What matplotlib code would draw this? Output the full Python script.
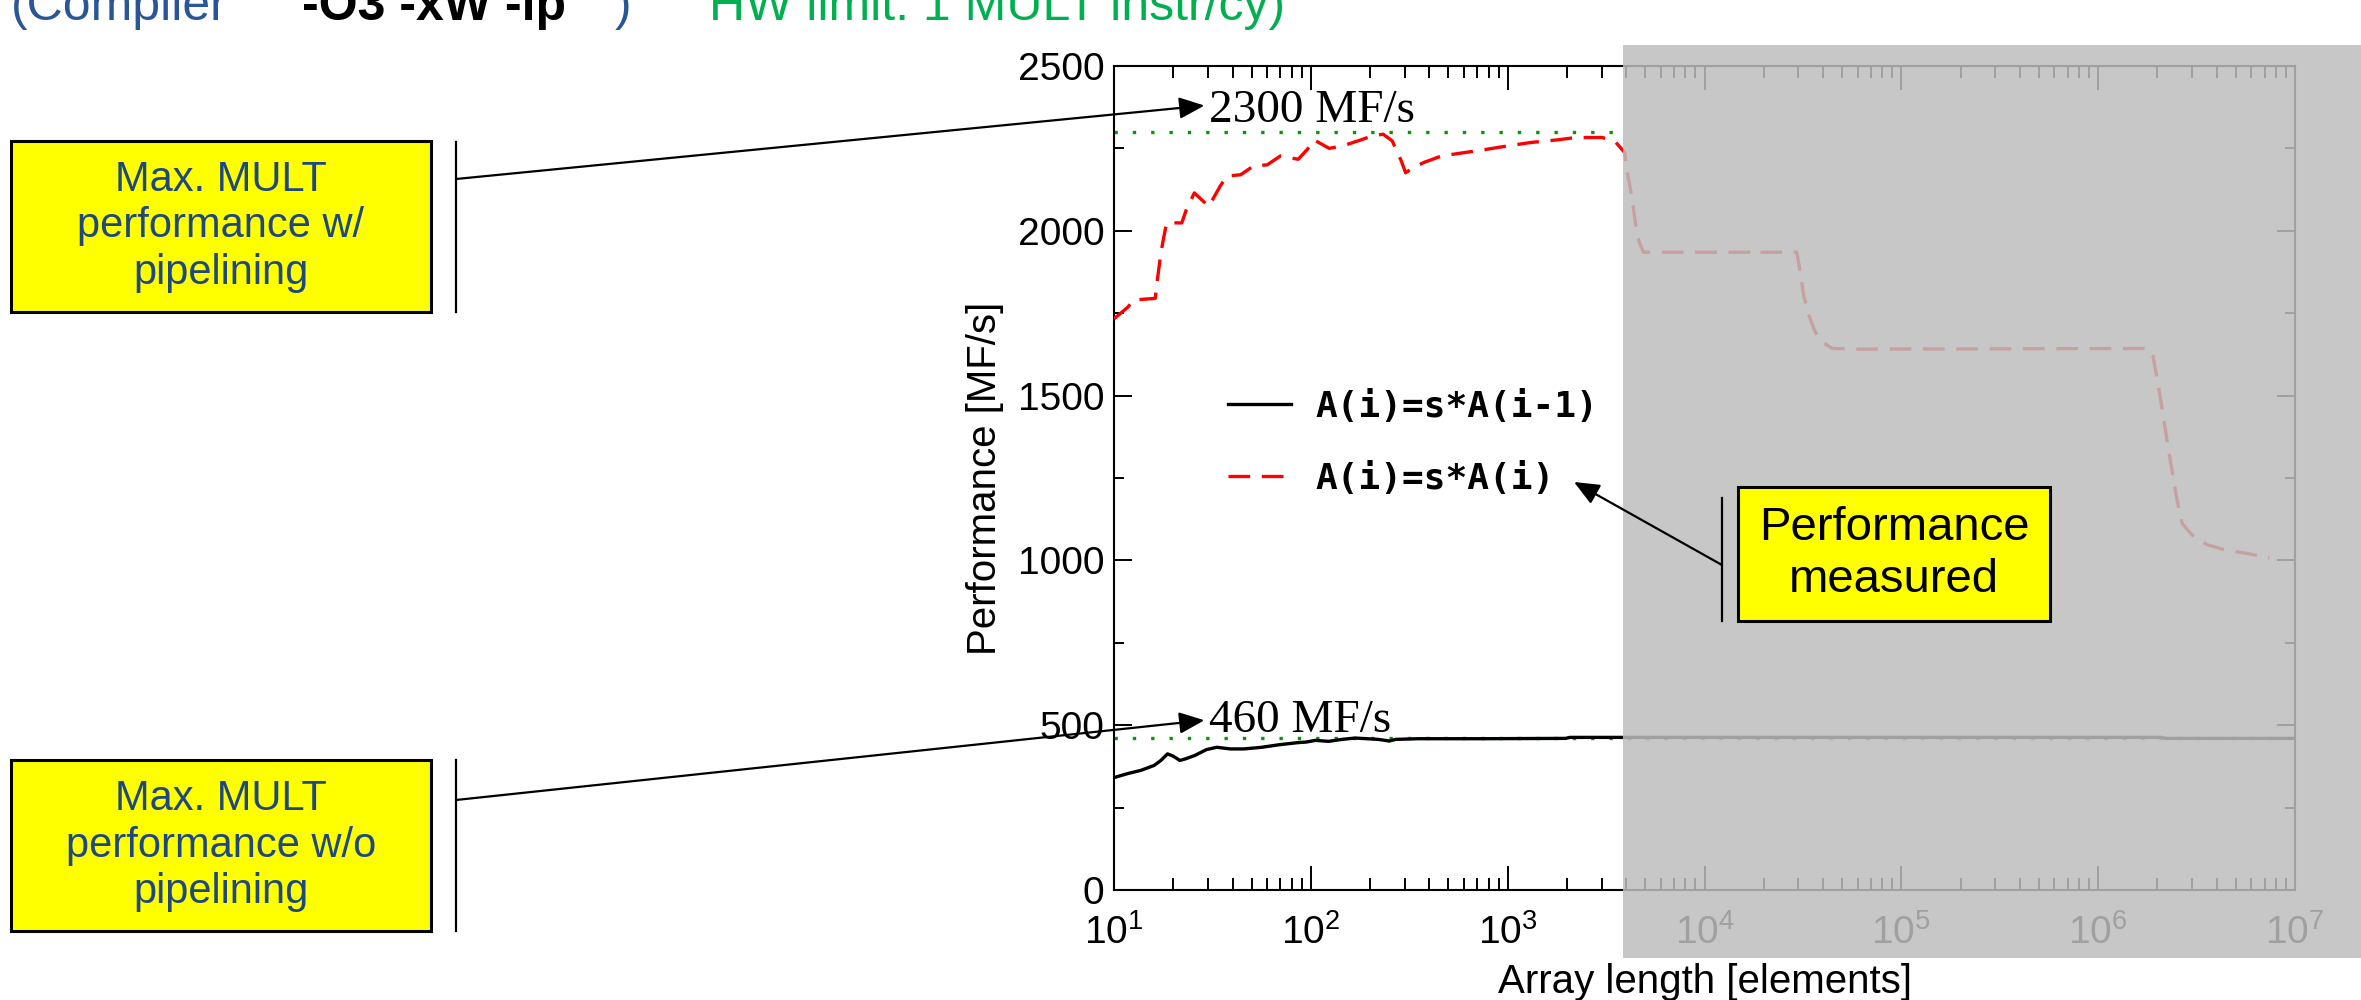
import matplotlib
matplotlib.use('Agg')
import matplotlib.pyplot as plt
from matplotlib.patches import Rectangle, ConnectionPatch
from matplotlib.lines import Line2D
from matplotlib.ticker import LogLocator, MultipleLocator, NullFormatter, LogFormatterMathtext

plt.rcParams['font.family'] = ['Liberation Sans', 'DejaVu Sans']
plt.rcParams['mathtext.default'] = 'regular'

# ---------------- data ----------------
x_red = [10, 11.8, 12.5, 16.2, 16.6, 17.3, 17.8, 18.5, 22.1, 23.3, 25.6, 30.3, 34.6, 37.4, 44,
         51.2, 60, 70, 77.6, 86.3, 96, 103.8, 124, 146, 180, 205, 233, 259, 288, 303, 330,
         374, 461, 599, 777, 1011, 1313, 1799, 2214, 3034, 3548, 3936, 4030, 4270, 4510, 4650,
         4900, 18000, 18700, 19500, 29400, 30200, 31900, 33700, 36700, 39800, 44700, 60000,
         1.8e6, 1.9e6, 2.01e6, 2.13e6, 2.25e6, 2.39e6, 2.52e6, 2.67e6, 3.0e6, 3.56e6, 4.47e6,
         5.6e6, 7.4e6]
y_red = [1733, 1769, 1790, 1795, 1850, 1932, 1973, 2024, 2024, 2064, 2115, 2074, 2135, 2166, 2170,
         2197, 2200, 2227, 2222, 2217, 2247, 2276, 2250, 2258, 2276, 2288, 2293, 2273, 2212, 2176, 2191,
         2207, 2227, 2237, 2247, 2258, 2268, 2276, 2283, 2283, 2268, 2237, 2186, 2105, 2001, 1967,
         1935, 1935, 1942, 1935, 1935, 1897, 1805, 1747, 1690, 1661, 1643, 1641,
         1643, 1620, 1539, 1447, 1355, 1262, 1181, 1112, 1077, 1048, 1031,
         1022, 1008]

x_black = [10, 11.7, 13.7, 16.0, 17.3, 18.7, 20, 21.6, 23.1, 25.7, 29.5, 33.3, 39, 45.7, 56.3,
           69.6, 85.6, 95, 105.6, 123, 144, 168, 220, 250, 270, 352, 767, 1970, 2070, 3690,
           2.1e6, 2.2e6, 1e7]
y_black = [341, 353, 363, 378, 393, 413, 406, 393, 398, 408, 426, 433, 428, 428, 433,
           441, 447, 449, 454, 451, 457, 461, 457, 452, 457, 459, 459, 460, 463, 463,
           463, 460, 460]

limits = [2300, 460]
limit_xmax = [4000, 1e7]
limit_labels = ['2300 MF/s', '460 MF/s']
series_labels = ['A(i)=s*A(i-1)', 'A(i)=s*A(i)']
y_ticks = [0, 500, 1000, 1500, 2000, 2500]

# ---------------- figure ----------------
W, H = 2361, 1000
fig = plt.figure(figsize=(W / 100, H / 100), dpi=100)
fig.patch.set_facecolor('white')

def fx(px):
    return px / W

def fy(py):
    return 1 - py / H

ax = fig.add_axes([fx(1114), fy(890), (2295 - 1114) / W, (890 - 66) / H])
ax.set_xscale('log')
ax.set_xlim(10, 1e7)
ax.set_ylim(0, 2500)

for lim, xm in zip(limits, limit_xmax):
    ax.plot([10, xm], [lim, lim], color='#009a00', lw=2.4, linestyle=(0, (1, 4.5)),
            label='_nolegend_', zorder=2)
lb, = ax.plot(x_black, y_black, color='black', lw=2.4, label=series_labels[0], zorder=3)
lr, = ax.plot(x_red, y_red, color='#ff0000', lw=2.4, dashes=(6.5, 3.5), label=series_labels[1], zorder=3)

ax.yaxis.set_major_locator(MultipleLocator(500))
ax.yaxis.set_minor_locator(MultipleLocator(250))
ax.set_yticks(y_ticks)
ax.xaxis.set_major_locator(LogLocator(base=10, numticks=20))
ax.xaxis.set_minor_locator(LogLocator(base=10, subs=range(2, 10), numticks=100))
ax.xaxis.set_major_formatter(LogFormatterMathtext())
ax.xaxis.set_minor_formatter(NullFormatter())
ax.tick_params(which='both', direction='in', top=True, right=True, width=1.4, color='black')
ax.tick_params(axis='x', which='major', length=17, pad=17, labelsize=28)
ax.tick_params(axis='x', which='minor', length=8.5)
ax.tick_params(axis='y', which='major', length=13, pad=7, labelsize=28)
ax.tick_params(axis='y', which='minor', length=7)
for s in ax.spines.values():
    s.set_linewidth(1.5)

ax.set_xlabel('Array length [elements]', fontsize=29, labelpad=8)
ax.set_ylabel('Performance [MF/s]', fontsize=29, labelpad=10)

ax.text(30.3, 2330, limit_labels[0], fontsize=34, family='Liberation Serif', va='baseline', ha='left')
ax.text(30.3, 478, limit_labels[1], fontsize=34, family='Liberation Serif', va='baseline', ha='left')

leg = ax.legend(handles=[lb, lr], loc='upper left', bbox_to_anchor=(fx(1228), fy(390)),
                bbox_transform=fig.transFigure, frameon=False,
                prop={'family': 'DejaVu Sans Mono', 'weight': 'bold', 'size': 26},
                handlelength=1.75, handletextpad=0.66, labelspacing=1.05,
                borderpad=0, borderaxespad=0)

# ---------------- gray overlay ----------------
fig.add_artist(Rectangle((fx(1623), fy(958)), (W - 1623) / W, (958 - 45) / H,
                         transform=fig.transFigure, facecolor=(0.74, 0.74, 0.74),
                         alpha=0.85, edgecolor='none', zorder=5))

# ---------------- callout boxes ----------------
box_blue = '#1F497D'

def callout(x0, y0, x1, y1, text, color, size, ls, z=6):
    fig.add_artist(Rectangle((fx(x0), fy(y1)), (x1 - x0) / W, (y1 - y0) / H,
                             transform=fig.transFigure, facecolor='#ffff00',
                             edgecolor='black', lw=2.2, zorder=z))
    fig.text(fx((x0 + x1) / 2), fy((y0 + y1) / 2), text, color=color, fontsize=size,
             ha='center', va='center', linespacing=ls, zorder=z + 1)

def vline(x, y0, y1, z=6):
    fig.add_artist(Line2D([fx(x), fx(x)], [fy(y0), fy(y1)], transform=fig.transFigure,
                          color='black', lw=1.6, zorder=z))

def arrow_fig_to_data(xa, ya, xb_data, yb_data, z=7):
    fig.add_artist(ConnectionPatch(xyA=(fx(xa), fy(ya)), coordsA=fig.transFigure,
                                   xyB=(xb_data, yb_data), coordsB=ax.transData,
                                   arrowstyle='-|>,head_length=0.7,head_width=0.3',
                                   mutation_scale=22, lw=1.6, color='black', zorder=z))

callout(11, 141, 431, 312, 'Max. MULT\nperformance w/\npipelining', box_blue, 30, 1.22)
vline(456, 142, 312)
arrow_fig_to_data(456, 179, 28.8, 2380)

callout(11, 760, 431, 931, 'Max. MULT\nperformance w/o\npipelining', box_blue, 30, 1.22)
vline(456, 760, 931)
arrow_fig_to_data(456, 800, 28.8, 515)

callout(1738, 487, 2050, 621, 'Performance\nmeasured', 'black', 34, 1.25)
vline(1722, 498, 621)
fig.add_artist(ConnectionPatch(xyA=(fx(1722), fy(565)), coordsA=fig.transFigure,
                               xyB=(fx(1574), fy(482)), coordsB=fig.transFigure,
                               arrowstyle='-|>,head_length=0.7,head_width=0.3',
                               mutation_scale=22, lw=1.6, color='black', zorder=7))

# ---------------- cut-off heading ----------------
base = 20
fig.text(fx(11), fy(base), '(Compiler', color='#2a5597', fontsize=36, va='baseline', ha='left')
fig.text(fx(302), fy(base), '-O3 -xW -ip', color='black', fontsize=36, fontweight='bold',
         va='baseline', ha='left')
fig.text(fx(615), fy(base), ')', color='#2a5597', fontsize=36, va='baseline', ha='left')
fig.text(fx(709), fy(base), 'HW limit: 1 MULT instr/cy)', color='#00B050', fontsize=36,
         va='baseline', ha='left')

fig.savefig('out.png', dpi=100, facecolor='white')
